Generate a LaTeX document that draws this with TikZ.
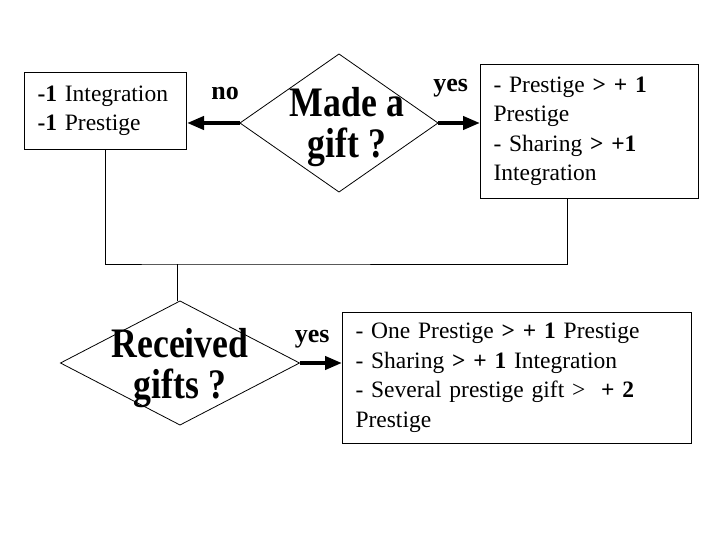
\documentclass[tikz,border=0pt]{standalone}
\usepackage{fontspec}
\setmainfont{Liberation Serif}
\newfontfamily\qfont[FakeStretch=0.85]{Liberation Serif}
\usetikzlibrary{shapes.geometric,arrows.meta,positioning,calc}
\tikzstyle{outcome} = [draw, rectangle, line width=1pt, anchor=north west, align=left, inner xsep=13pt, inner ysep=0pt, font=\fontsize{23.5}{29.5}\selectfont]
\tikzstyle{decision} = [draw, diamond, line width=0.8pt, inner sep=0pt, outer sep=0pt]
\tikzstyle{question} = [font=\fontsize{42}{41}\qfont\bfseries, align=center]
\tikzstyle{answer} = [font=\fontsize{26}{26}\selectfont\bfseries, anchor=base, inner sep=0pt]
\tikzstyle{branch} = [-{Triangle[length=17pt,width=13pt]}, line width=4pt]
\tikzstyle{link} = [line width=1pt]

\begin{document}
\begin{tikzpicture}[x=1pt, y=-1pt]
  \useasboundingbox (0,0) rectangle (720,540);
  % Nodes
  \node [decision, minimum width=198pt, minimum height=138pt,
         label={[question, xshift=8pt, yshift=-4pt]center:Made a\\gift ?}] (gift) at (339,123) {};
  \node [outcome, text width=136pt, minimum height=77pt] (nobox) at (24,72)
    {\textbf{-1} Integration\\\textbf{-1} Prestige};
  \node [outcome, text width=192pt, minimum height=134pt] (yesbox) at (480,64)
    {- Prestige \textbf{> + 1}\\Prestige\\- Sharing \textbf{> +1}\\Integration};
  \node [decision, minimum width=239pt, minimum height=124pt,
         label={[question, yshift=-5pt]center:Received\\gifts ?}] (recv) at (180,363) {};
  \node [outcome, text width=323pt, minimum height=131pt] (recvbox) at (342,312)
    {- One Prestige \textbf{> + 1} Prestige\\- Sharing \textbf{> + 1} Integration\\- Several prestige gift >~ \textbf{+ 2}\\Prestige};

  % Path
  \draw [branch] (gift.west) -- (gift.west -| nobox.east)
    node [answer, pos=0.28, yshift=23pt] {no};
  \draw [branch] (gift.east) -- (gift.east -| yesbox.west)
    node [answer, pos=0.3, yshift=31pt] {yes};
  \draw [branch] (recv.east) -- (recv.east -| recvbox.west)
    node [answer, pos=0.3, yshift=21pt] {yes};

  % Merge
  \coordinate (merge) at ($(recv.north |- 0,264) + (-3,0)$);
  \draw [link] (nobox.south) |- (merge) -| ([xshift=87pt]yesbox.south west);
  \draw [link] (merge) -- (merge |- recv.north);
\end{tikzpicture}
\end{document}
